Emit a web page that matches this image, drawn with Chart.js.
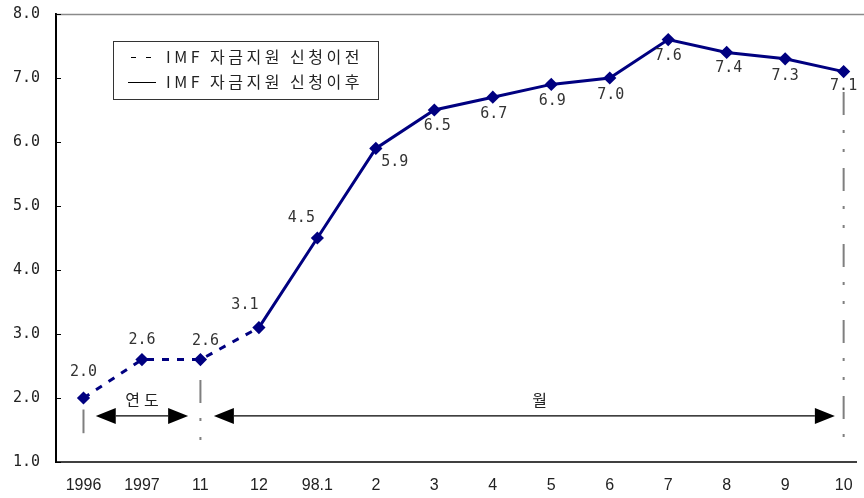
<!DOCTYPE html>
<html>
<head>
<meta charset="utf-8">
<script src="https://cdn.jsdelivr.net/npm/chart.js@4"></script>
<style>
  html, body { margin: 0; padding: 0; background: #fff; }
  #wrap { width: 864px; height: 498px; }
</style>
</head>
<body>
<div id="wrap"><canvas id="rateChart" width="864" height="498"></canvas></div>
<script>
// data
const categories = ['1996', '1997', '11', '12', '98.1', '2', '3', '4', '5', '6', '7', '8', '9', '10'];
const rates = [2.0, 2.6, 2.6, 3.1, 4.5, 5.9, 6.5, 6.7, 6.9, 7.0, 7.6, 7.4, 7.3, 7.1];
const yTicks = [1.0, 2.0, 3.0, 4.0, 5.0, 6.0, 7.0, 8.0];
const lastBeforeIndex = 3; // dashed up to '12'
const legendLabels = ['IMF 자금지원 신청이전', 'IMF 자금지원 신청이후'];
const periodLabels = ['연도', '월'];

// label offsets (px) relative to each point
const labelOffsets = [
  [0, -26], [0, -19], [5, -18], [-14, -22], [-16, -20], [19, 14],
  [3, 16], [1, 17], [1, 17], [1, 17], [0, 17], [2, 16], [0, 17], [0, 15]
];

const NAVY = '#000080';
const monoFont = '15px "DejaVu Sans Mono", monospace';

const decorPlugin = {
  id: 'decor',
  afterDraw(chart) {
    const ctx = chart.ctx;
    const x = chart.scales.x;
    const y = chart.scales.y;
    const area = chart.chartArea;
    ctx.save();

    // top border
    ctx.strokeStyle = '#8a8a8a';
    ctx.lineWidth = 1.5;
    ctx.beginPath();
    ctx.moveTo(area.left, area.top + 0.5);
    ctx.lineTo(chart.width, area.top + 0.5);
    ctx.stroke();

    // small inner ticks on the y axis
    ctx.strokeStyle = '#000';
    ctx.lineWidth = 1;
    yTicks.forEach(v => {
      const py = Math.round(y.getPixelForValue(v)) + 0.5;
      ctx.beginPath();
      ctx.moveTo(area.left, py);
      ctx.lineTo(area.left + 5, py);
      ctx.stroke();
    });

    // value labels
    ctx.font = monoFont;
    ctx.fillStyle = '#333';
    ctx.textAlign = 'center';
    ctx.textBaseline = 'middle';
    rates.forEach((v, i) => {
      const px = x.getPixelForValue(i) + labelOffsets[i][0];
      const py = y.getPixelForValue(v) + labelOffsets[i][1];
      ctx.fillText(v.toFixed(1), px, py);
    });

    // vertical separators
    ctx.strokeStyle = '#7f7f7f';
    ctx.lineWidth = 2;
    ctx.beginPath();
    ctx.moveTo(x.getPixelForValue(0), y.getPixelForValue(1.82));
    ctx.lineTo(x.getPixelForValue(0), y.getPixelForValue(1.45));
    ctx.stroke();

    ctx.setLineDash([23, 15, 3, 16, 3, 16]);
    ctx.beginPath();
    ctx.moveTo(x.getPixelForValue(2), y.getPixelForValue(2.28));
    ctx.lineTo(x.getPixelForValue(2), y.getPixelForValue(1.25));
    ctx.stroke();
    ctx.beginPath();
    ctx.moveTo(x.getPixelForValue(13), y.getPixelForValue(6.78));
    ctx.lineTo(x.getPixelForValue(13), y.getPixelForValue(1.25));
    ctx.stroke();
    ctx.setLineDash([]);

    // period arrows
    const arrowY = y.getPixelForValue(1.72);
    const drawArrow = (x1, x2) => {
      const hw = 20, hh = 8;
      ctx.strokeStyle = '#000';
      ctx.fillStyle = '#000';
      ctx.lineWidth = 1.2;
      ctx.beginPath();
      ctx.moveTo(x1 + hw, arrowY);
      ctx.lineTo(x2 - hw, arrowY);
      ctx.stroke();
      ctx.beginPath();
      ctx.moveTo(x1, arrowY);
      ctx.lineTo(x1 + hw, arrowY - hh);
      ctx.lineTo(x1 + hw, arrowY + hh);
      ctx.closePath();
      ctx.fill();
      ctx.beginPath();
      ctx.moveTo(x2, arrowY);
      ctx.lineTo(x2 - hw, arrowY - hh);
      ctx.lineTo(x2 - hw, arrowY + hh);
      ctx.closePath();
      ctx.fill();
    };
    drawArrow(x.getPixelForValue(0.21), x.getPixelForValue(1.79));
    drawArrow(x.getPixelForValue(2.23), x.getPixelForValue(12.85));

    ctx.font = '16px "Noto Sans CJK KR", sans-serif';
    ctx.fillStyle = '#222';
    ctx.letterSpacing = '4px';
    ctx.fillText(periodLabels[0], x.getPixelForValue(1) + 2, arrowY - 16);
    ctx.fillText(periodLabels[1], x.getPixelForValue(7.8) + 2, arrowY - 16);
    ctx.letterSpacing = '0px';

    // legend box
    const lx = 113, ly = 41, lw = 265, lh = 58;
    ctx.strokeStyle = '#333';
    ctx.lineWidth = 1;
    ctx.strokeRect(lx + 0.5, ly + 0.5, lw, lh);
    ctx.strokeStyle = '#000';
    ctx.lineWidth = 1;
    ctx.setLineDash([5, 10]);
    ctx.beginPath();
    ctx.moveTo(131, 57.5);
    ctx.lineTo(156, 57.5);
    ctx.stroke();
    ctx.setLineDash([]);
    ctx.beginPath();
    ctx.moveTo(128, 82.5);
    ctx.lineTo(156, 82.5);
    ctx.stroke();
    ctx.font = '16px "Noto Sans CJK KR", sans-serif';
    ctx.fillStyle = '#222';
    ctx.textAlign = 'left';
    ctx.letterSpacing = '3.5px';
    ctx.fillText(legendLabels[0], 166, 57);
    ctx.fillText(legendLabels[1], 166, 82);
    ctx.letterSpacing = '0px';

    ctx.restore();
  }
};

new Chart(document.getElementById('rateChart'), {
  type: 'line',
  data: {
    datasets: [{
      label: 'rate',
      data: rates.map((v, i) => ({ x: i, y: v })),
      borderColor: NAVY,
      backgroundColor: NAVY,
      borderWidth: 3,
      pointStyle: 'rectRot',
      pointRadius: 4.5,
      pointHoverRadius: 4.5,
      tension: 0,
      segment: {
        borderDash: c => (c.p1DataIndex <= lastBeforeIndex ? [7, 8] : undefined)
      }
    }]
  },
  options: {
    responsive: false,
    animation: false,
    events: [],
    clip: false,
    layout: { padding: 0 },
    plugins: {
      legend: { display: false },
      tooltip: { enabled: false }
    },
    scales: {
      x: {
        type: 'linear',
        min: -0.47,
        max: 13.22,
        afterFit: s => { s.height = 36; s.paddingLeft = 0; s.paddingRight = 0; },
        afterBuildTicks: s => { s.ticks = categories.map((c, i) => ({ value: i })); },
        grid: { display: false, drawTicks: false },
        border: { display: true, color: '#404040', width: 2 },
        ticks: {
          autoSkip: false,
          maxRotation: 0,
          padding: 14,
          color: '#222',
          font: { family: '"Liberation Sans", Arial, sans-serif', size: 16 },
          callback: v => categories[v]
        }
      },
      y: {
        min: 1,
        max: 8,
        afterFit: s => { s.width = 56; s.paddingTop = 14; s.paddingBottom = 0; },
        afterBuildTicks: s => { s.ticks = yTicks.map(v => ({ value: v })); },
        grid: { display: false, drawTicks: false },
        border: { display: true, color: '#000', width: 2 },
        ticks: {
          padding: 16,
          color: '#222',
          font: { family: '"DejaVu Sans Mono", monospace', size: 15 },
          callback: v => Number(v).toFixed(1)
        }
      }
    }
  },
  plugins: [decorPlugin]
});
</script>
</body>
</html>
